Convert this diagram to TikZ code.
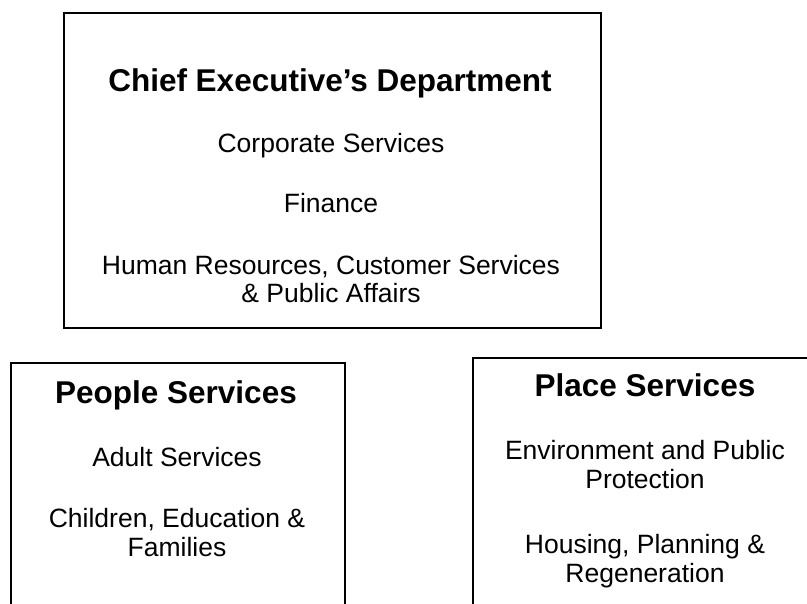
\documentclass[tikz,border=0pt]{standalone}
\usepackage{fontspec}
\setmainfont{Liberation Sans}
\begin{document}
\begin{tikzpicture}[x=1pt,y=-1pt,
  box/.style={draw=black,line width=1.6pt,rectangle,inner sep=0pt,anchor=north west},
  ttl/.style={anchor=base,inner sep=0pt,font=\fontsize{31.5}{34}\selectfont\bfseries},
  txt/.style={anchor=base,inner sep=0pt,font=\fontsize{26.5}{28}\selectfont}]
\useasboundingbox (0,0) rectangle (807,604);
\clip (0,0) rectangle (807,604);
\fill[white] (0,0) rectangle (807,604);
% boxes
\node[box,minimum width=537pt,minimum height=315pt] (ce) at (63,12) {};
\node[box,minimum width=334pt,minimum height=280pt] (ps) at (10,362) {};
\node[box,minimum width=350pt,minimum height=290pt] (pl) at (472,357) {};
% Chief Executive's Department
\node[ttl] (cet) at (330,92) {Chief Executive’s Department};
\node[txt] (ce1) at (331,153) {Corporate Services};
\node[txt] (ce2) at (331,213) {Finance};
\node[txt] (ce3) at (331,275) {Human Resources, Customer Services};
\node[txt] (ce4) at (331,303) {\& Public Affairs};
% People Services
\node[ttl] (pst) at (176,403) {People Services};
\node[txt] (ps1) at (177,466) {Adult Services};
\node[txt] (ps2) at (177,527) {Children, Education \&};
\node[txt] (ps3) at (177,556) {Families};
% Place Services
\node[ttl] (plt) at (645,397) {Place Services};
\node[txt] (pl1) at (645,460) {Environment and Public};
\node[txt] (pl2) at (645,489) {Protection};
\node[txt] (pl3) at (645,553) {Housing, Planning \&};
\node[txt] (pl4) at (645,582) {Regeneration};
\end{tikzpicture}
\end{document}
